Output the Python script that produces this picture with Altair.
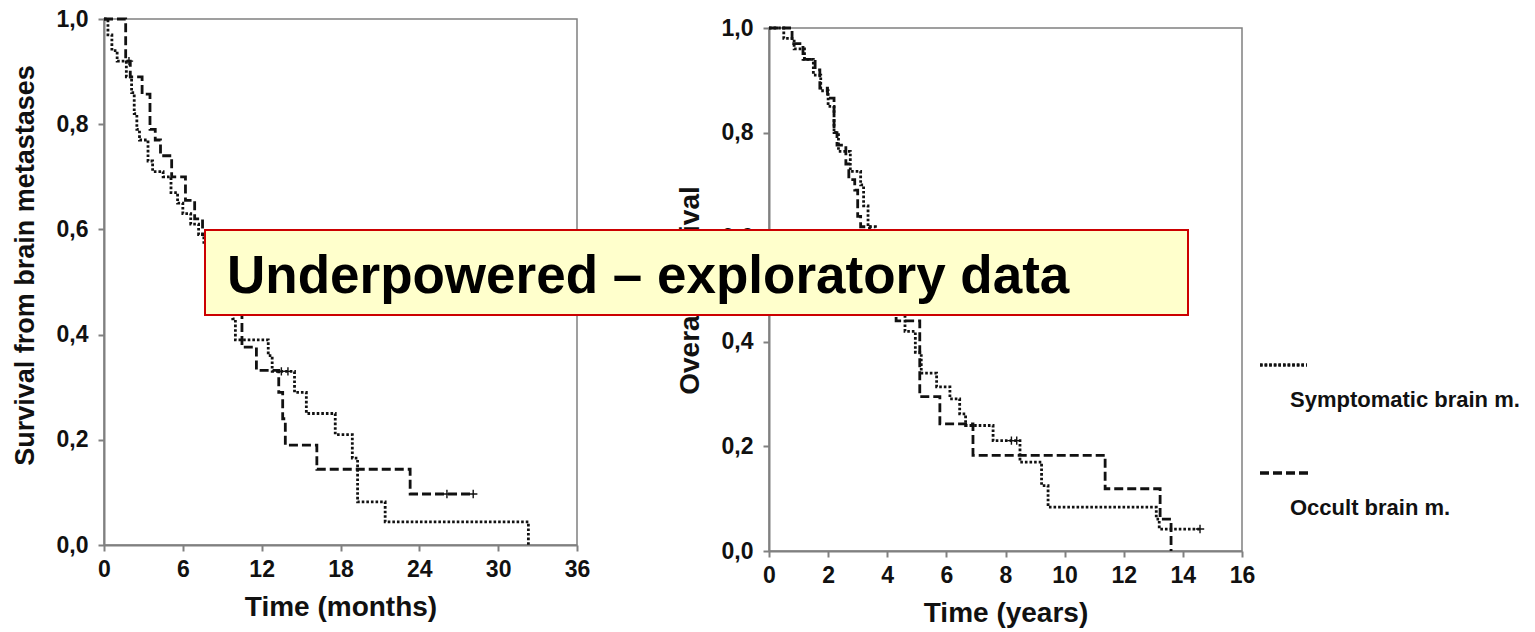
import altair as alt
import pandas as pd

FONT = "Liberation Sans"
SERIES = ["Symptomatic brain m.", "Occult brain m."]
OVERLAY_TEXT = "Underpowered \u2013 exploratory data"

Y_TICKS = [0.0, 0.2, 0.4, 0.6, 0.8, 1.0]
LEFT_X_TICKS = [0, 6, 12, 18, 24, 30, 36]
RIGHT_X_TICKS = [0, 2, 4, 6, 8, 10, 12, 14, 16]

# Left panel: survival from brain metastases (months)
LEFT_SYM_T = [0, 0.3, 0.6, 1.0, 1.7, 2.1, 2.3, 2.5, 2.7, 3.35, 3.7, 4.5, 5.1, 5.6, 6.0, 6.6,
              7.2, 7.6, 8.3, 8.9, 9.4, 9.8, 10.0, 12.5, 12.8, 14.5, 15.4, 17.6, 18.9, 19.3, 21.4, 32.3]
LEFT_SYM_S = [1.0, 0.97, 0.94, 0.92, 0.89, 0.86, 0.82, 0.79, 0.77, 0.73, 0.71, 0.70, 0.67, 0.65, 0.63, 0.61,
              0.59, 0.57, 0.54, 0.51, 0.47, 0.43, 0.39, 0.36, 0.33, 0.29, 0.25, 0.21, 0.165, 0.082, 0.044, 0.0]
LEFT_SYM_CENS_T = [13.5, 14.0]
LEFT_SYM_CENS_S = [0.33, 0.33]

LEFT_OCC_T = [0, 1.65, 2.0, 2.9, 3.5, 3.9, 4.3, 5.15, 6.2, 6.9, 7.5, 8.2, 8.8, 9.5, 10.0, 10.5,
              11.6, 13.3, 13.6, 13.8, 16.2, 23.3, 28.1]
LEFT_OCC_S = [1.0, 0.92, 0.89, 0.857, 0.79, 0.77, 0.74, 0.70, 0.655, 0.62, 0.59, 0.55, 0.51, 0.48, 0.44, 0.376,
              0.332, 0.29, 0.24, 0.19, 0.144, 0.097, 0.097]
LEFT_OCC_CENS_T = [1.9, 26.1, 28.1]
LEFT_OCC_CENS_S = [0.92, 0.097, 0.097]

# Right panel: overall survival (years)
RIGHT_SYM_T = [0, 0.5, 0.85, 1.2, 1.5, 1.75, 2.0, 2.2, 2.35, 2.75, 3.1, 3.2, 3.35, 3.6, 3.8, 4.0,
               4.3, 4.6, 4.95, 5.15, 5.67, 6.12, 6.45, 6.65, 7.58, 8.49, 9.22, 9.44, 13.1, 13.2, 14.58]
RIGHT_SYM_S = [1.0, 0.98, 0.96, 0.94, 0.91, 0.88, 0.85, 0.80, 0.764, 0.726, 0.70, 0.66, 0.62, 0.58, 0.54, 0.50,
               0.46, 0.42, 0.38, 0.34, 0.314, 0.291, 0.262, 0.240, 0.211, 0.17, 0.125, 0.084, 0.061, 0.042, 0.042]
RIGHT_SYM_CENS_T = [8.2, 8.38, 14.58]
RIGHT_SYM_CENS_S = [0.211, 0.211, 0.042]

RIGHT_OCC_T = [0, 0.78, 1.15, 1.56, 1.72, 1.98, 2.2, 2.3, 2.6, 2.7, 2.9, 3.0, 3.1, 3.4, 3.7, 4.0,
               4.3, 5.1, 5.78, 6.9, 11.37, 13.23, 13.6]
RIGHT_OCC_S = [1.0, 0.97, 0.94, 0.92, 0.885, 0.866, 0.80, 0.776, 0.74, 0.71, 0.69, 0.64, 0.62, 0.58, 0.53, 0.49,
               0.44, 0.295, 0.243, 0.183, 0.119, 0.061, 0.0]

INK = "#111111"
AXIS_GRAY = "#808080"
DOT = [2.6, 2.0]
DASH = [9, 4]
LINE_W = 2.8

dash_scale = alt.Scale(domain=SERIES, range=[DOT, DASH])
LABEL_EXPR = "replace(format(datum.value, '.1f'), '.', ',')"


def curves(sym_t, sym_s, occ_t, occ_s):
    a = pd.DataFrame({"t": sym_t, "s": sym_s, "series": SERIES[0]})
    b = pd.DataFrame({"t": occ_t, "s": occ_s, "series": SERIES[1]})
    return pd.concat([a, b], ignore_index=True)


def panel(df, cens, xmax, xticks, xtitle, ytitle, ytitle_size, ytitle_y):
    x = alt.X("t:Q", scale=alt.Scale(domain=[0, xmax], nice=False, zero=True),
              axis=alt.Axis(values=xticks, title=xtitle, labelFlush=False, labelOverlap=False,
                            labelPadding=7, titlePadding=12))
    y = alt.Y("s:Q", scale=alt.Scale(domain=[0, 1], nice=False),
              axis=alt.Axis(values=Y_TICKS, labelExpr=LABEL_EXPR, title=ytitle, labelOverlap=False,
                            labelPadding=10, titlePadding=17, titleFontSize=ytitle_size,
                            titleY=ytitle_y))
    lines = alt.Chart(df).mark_line(interpolate="step-after", color=INK, strokeWidth=LINE_W).encode(
        x=x, y=y,
        strokeDash=alt.StrokeDash("series:N", scale=dash_scale, legend=None),
        detail="series:N",
    )
    marks = alt.Chart(cens).mark_point(
        shape="M-1,0L1,0M0,-1L0,1", filled=False, color=INK, size=70, strokeWidth=1.4, opacity=1
    ).encode(x=x, y=y)
    return lines, marks


left_df = curves(LEFT_SYM_T, LEFT_SYM_S, LEFT_OCC_T, LEFT_OCC_S)
left_cens = pd.DataFrame({"t": LEFT_SYM_CENS_T + LEFT_OCC_CENS_T, "s": LEFT_SYM_CENS_S + LEFT_OCC_CENS_S})
right_df = curves(RIGHT_SYM_T, RIGHT_SYM_S, RIGHT_OCC_T, RIGHT_OCC_S)
right_cens = pd.DataFrame({"t": RIGHT_SYM_CENS_T, "s": RIGHT_SYM_CENS_S})

l_lines, l_marks = panel(left_df, left_cens, 36, LEFT_X_TICKS, "Time (months)",
                         "Survival from brain metastases", 27, 246)
r_lines, r_marks = panel(right_df, right_cens, 16, RIGHT_X_TICKS, "Time (years)",
                         "Overall survival", 28, 262)

left = alt.layer(l_lines, l_marks).properties(width=473, height=526)

# legend (drawn as marks), positions relative to the right panel
leg_df = pd.DataFrame({"label": SERIES})
leg_sym_line = alt.Chart(leg_df).mark_rule(color=INK, strokeWidth=LINE_W, strokeDash=DOT).encode(
    x=alt.value(491), x2=alt.value(538), y=alt.value(337))
leg_occ_line = alt.Chart(leg_df).mark_rule(color=INK, strokeWidth=LINE_W, strokeDash=DASH).encode(
    x=alt.value(491), x2=alt.value(541), y=alt.value(445))
leg_sym_text = alt.Chart(pd.DataFrame({"label": [SERIES[0]]})).mark_text(
    align="left", baseline="alphabetic", font=FONT, fontSize=22, fontWeight="bold", color=INK
).encode(x=alt.value(521), y=alt.value(379), text="label:N")
leg_occ_text = alt.Chart(pd.DataFrame({"label": [SERIES[1]]})).mark_text(
    align="left", baseline="alphabetic", font=FONT, fontSize=22, fontWeight="bold", color=INK
).encode(x=alt.value(521), y=alt.value(487), text="label:N")

# overlay annotation box
box = alt.Chart(pd.DataFrame({"label": [OVERLAY_TEXT]})).mark_rect(
    fill="#FFFFCC", stroke="#CC0000", strokeWidth=2
).encode(x=alt.value(-564), x2=alt.value(419), y=alt.value(202), y2=alt.value(287))
box_text = alt.Chart(pd.DataFrame({"label": [OVERLAY_TEXT]})).mark_text(
    align="left", baseline="alphabetic", font=FONT, fontSize=53, fontWeight="bold", color="#000000"
).encode(x=alt.value(-542), y=alt.value(265), text="label:N")

right = alt.layer(
    r_lines, r_marks, leg_sym_line, leg_occ_line, leg_sym_text, leg_occ_text, box, box_text
).properties(width=473, height=523)

spacer = alt.Chart(pd.DataFrame({"a": [0]})).mark_point(opacity=0).encode(
    x=alt.value(0), y=alt.value(0)
).properties(width=473, height=1, view=alt.ViewBackground(strokeOpacity=0))

chart = alt.hconcat(
    left,
    alt.vconcat(spacer, right, spacing=8, bounds="flush"),
    spacing=192,
    bounds="flush",
).properties(
    autosize=alt.AutoSizeParams(type="none"),
    padding={"left": 104, "top": 19, "right": 1431, "bottom": 613},
    background="white",
).configure_view(
    stroke=AXIS_GRAY, strokeWidth=1.5
).configure_axis(
    domainColor=AXIS_GRAY, domainWidth=2, tickColor=AXIS_GRAY, tickWidth=2, tickSize=6,
    labelFont=FONT, labelFontSize=23, labelFontWeight="bold", labelColor=INK,
    titleFont=FONT, titleFontSize=28, titleFontWeight="bold", titleColor=INK, grid=False,
)

chart.save("out.html", embed_options={"renderer": "svg", "actions": False})
